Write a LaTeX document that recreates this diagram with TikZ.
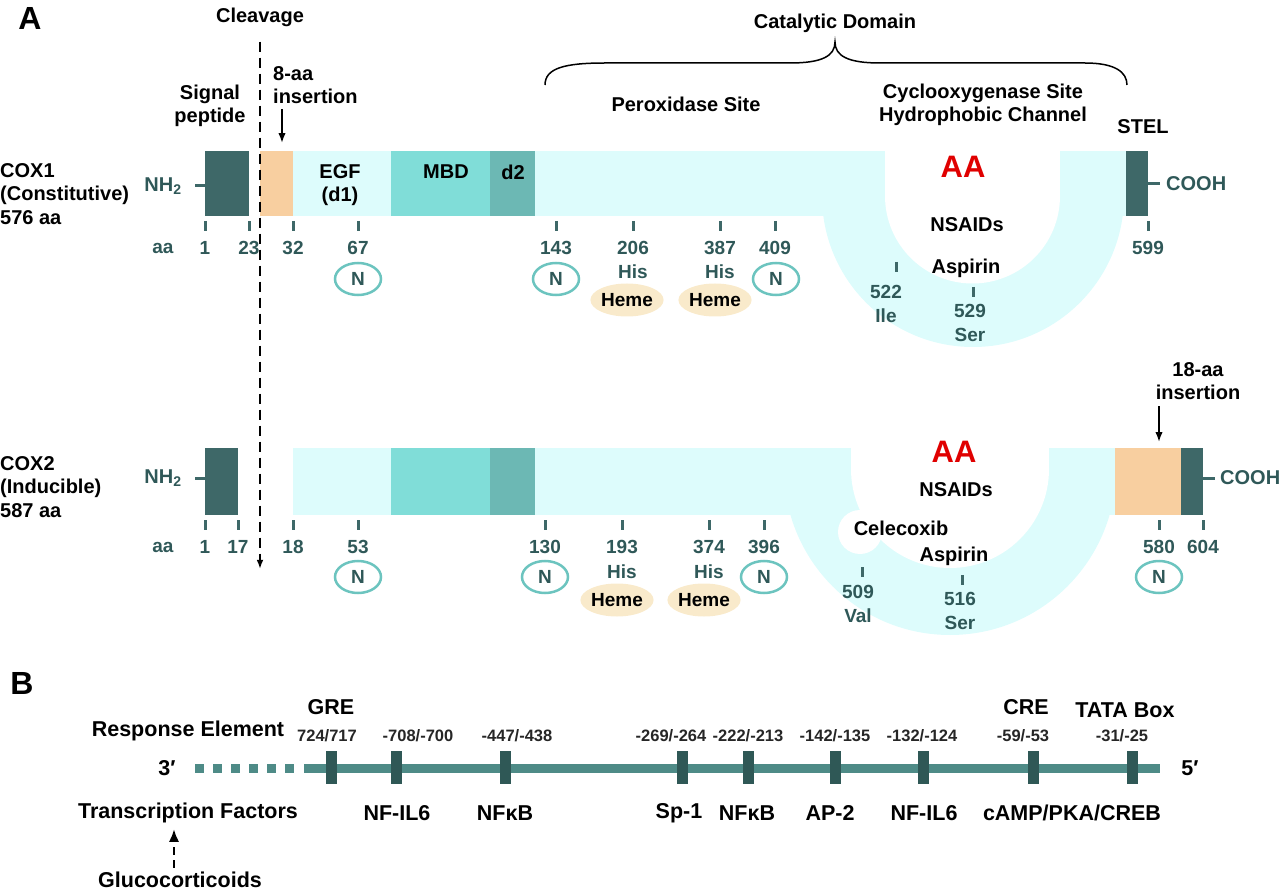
\documentclass[tikz,border=0pt]{standalone}
\usepackage{fontspec}
\setmainfont{Liberation Sans}
\usetikzlibrary{arrows.meta,positioning,shapes.geometric}
\definecolor{coxDark}{RGB}{62,104,104}
\definecolor{coxText}{RGB}{47,88,88}
\definecolor{coxLight}{RGB}{221,252,252}
\definecolor{coxMBD}{RGB}{128,221,216}
\definecolor{coxDtwo}{RGB}{108,184,180}
\definecolor{coxOrange}{RGB}{248,207,160}
\definecolor{coxHeme}{RGB}{249,234,203}
\definecolor{coxRing}{RGB}{108,196,191}
\definecolor{coxRed}{RGB}{224,0,0}
\definecolor{dnaLine}{RGB}{78,139,135}
\definecolor{dnaBox}{RGB}{47,88,86}

\begin{document}
\begin{tikzpicture}[x=1pt,y=-1pt,
  lbl/.style={font=\fontsize{20}{23.5}\selectfont\bfseries,align=center,inner sep=0pt},
  lbll/.style={lbl,align=left,anchor=west},
  lblb/.style={lbl,font=\fontsize{21.5}{24}\selectfont\bfseries},
  num/.style={lbl,font=\fontsize{19}{23.5}\selectfont\bfseries,text=coxText},
  term/.style={lbl,text=coxText},
  big/.style={font=\fontsize{32}{34}\selectfont\bfseries,inner sep=0pt},
  aa/.style={font=\fontsize{31}{33}\selectfont\bfseries,text=coxRed,inner sep=0pt},
  tick/.style={coxDark,line width=3pt},
  glyc/.style={ellipse,draw=coxRing,line width=2.5pt,minimum width=46pt,minimum height=32pt,inner sep=0pt,
    font=\fontsize{19}{20}\selectfont\bfseries,text=coxText},
  heme/.style={ellipse,fill=coxHeme,minimum width=56pt,minimum height=33pt,inner sep=0pt,
    font=\fontsize{19}{20}\selectfont\bfseries},
  renum/.style={font=\fontsize{16.5}{18}\selectfont\bfseries,text=black!85,inner sep=0pt},
  rebox/.style={fill=dnaBox,minimum width=11pt,minimum height=33pt,inner sep=0pt},
  arrow/.style={-{Latex[length=3.5mm,width=2.6mm]},line width=1.6pt},
  dasharrow/.style={-{Latex[length=3.2mm,width=2.4mm]},line width=2.4pt,dash pattern=on 10pt off 6pt}
]
  \useasboundingbox (0,0) rectangle (1280,893);

  % ---------- COX1 bar ----------
  \fill[coxLight] (535,151) rectangle (1127,216);
  \begin{scope}
    \clip (780,196) rectangle (1140,360);
    \fill[coxLight] (973,196) circle (151);
  \end{scope}
  \fill[white] (885,151) rectangle (1060,196);
  \fill[white] (972.5,196) circle (87.5);
  \fill[coxDark] (205,151) rectangle (249,216);
  \fill[coxOrange] (260,151) rectangle (293,216);
  \fill[coxLight] (293,151) rectangle (391,216);
  \fill[coxMBD] (391,151) rectangle (490,216);
  \fill[coxDtwo] (490,151) rectangle (535,216);
  \fill[coxDark] (1126,151) rectangle (1148,216);

  % ---------- COX2 bar ----------
  \fill[coxLight] (293,448) rectangle (1115,515);
  \begin{scope}
    \clip (770,469) rectangle (1120,650);
    \fill[coxLight] (950,469) circle (166);
  \end{scope}
  \fill[white] (851,448) rectangle (1049,469);
  \fill[white] (950,469) circle (99);
  \fill[white] (860,532) circle (22);
  \fill[coxDark] (205,448) rectangle (238,515);
  \fill[coxMBD] (391,448) rectangle (490,515);
  \fill[coxDtwo] (490,448) rectangle (535,515);
  \fill[coxOrange] (1115,448) rectangle (1181,515);
  \fill[coxDark] (1181,448) rectangle (1203,515);

  % ---------- A: COX1 labels ----------
  \node[big] (panelA) at (30,18) {A};
  \node[lbl] (cleave) at (260,17) {Cleavage};
  \node[lbl] (catal) at (835,23) {Catalytic Domain};
  \draw[line width=1.5pt] (545,85) .. controls (545,68) and (565,63) .. (605,63) -- (790,63)
    .. controls (822,63) and (835,56) .. (835,42) .. controls (835,56) and (848,63) .. (880,63)
    -- (1085,63) .. controls (1115,63) and (1127,72) .. (1127,85);
  \node[lbl] (signal) at (210,106) {Signal\\peptide};
  \node[lbll] (ins1) at (273,85) {8-aa\\insertion};
  \node[lbl] (perox) at (686,104) {Peroxidase Site};
  \node[lbl] (cyclo) at (983,105) {Cyclooxygenase Site\\Hydrophobic Channel};
  \node[lbl] (stel) at (1143,127) {STEL};
  \node[lbll] (cox1) at (0,194) {COX1\\(Constitutive)\\576 aa};

  \node[lbl] (egf) at (340,185) {EGF\\(d1)};
  \node[lbl] (mbd) at (446,172) {MBD};
  \node[lbl] (dtwo) at (513,172) {d2};
  \node[aa] (aa1) at (963,167) {AA};
  \node[lbl] (nsaid1) at (967,225) {NSAIDs};
  \node[lbl] (asp1) at (966,268) {Aspirin};
  \node[term] (nh1) at (163,186) {NH\textsubscript{2}};
  \node[term,anchor=west] (cooh1) at (1166,184) {COOH};
  \draw[tick] (195,186) -- (205,186);
  \draw[tick] (1148,184) -- (1160,184);
  \node[num] (aalbl1) at (163,248) {aa};

  \foreach \x/\t [count=\i] in {205/1,249/23,293/32,358/67,556/143,633/206,720/387,775/409,1148/599}{
    \draw[tick] (\x,221) -- (\x,231);
    \node[num] (onum\i) at (\x,248) {\t};
  }
  \draw[tick] (896,262) -- (896,272);
  \node[num] (ile) at (886,304) {522\\Ile};
  \draw[tick] (973,287) -- (973,297);
  \node[num] (ser1) at (970,323) {529\\Ser};
  \foreach \x [count=\i] in {358,556,776}
    \node[glyc] (oglyc\i) at (\x,279) {N};
  \node[num] (ohis1) at (633,272) {His};
  \node[num] (ohis2) at (720,272) {His};
  \node[heme] (oheme1) at (627,300) {Heme};
  \node[heme] (oheme2) at (715,300) {Heme};

  % ---------- A: COX2 labels ----------
  \node[lbll] (cox2) at (0,487) {COX2\\(Inducible)\\587 aa};
  \node[lbl] (ins2) at (1198,381) {18-aa\\insertion};
  \node[aa] (aa2) at (954,452) {AA};
  \node[lbl] (nsaid2) at (956,490) {NSAIDs};
  \node[lbl] (celec) at (901,528) {Celecoxib};
  \node[lbl] (asp2) at (954,556) {Aspirin};
  \node[term] (nh2) at (163,478) {NH\textsubscript{2}};
  \node[term,anchor=west] (cooh2) at (1220,478) {COOH};
  \draw[tick] (195,478) -- (205,478);
  \draw[tick] (1203,478) -- (1215,478);
  \node[num] (aalbl2) at (163,547) {aa};

  \foreach \x/\t [count=\i] in {205/1,238/17,293/18,358/53,545/130,622/193,709/374,764/396,1159/580,1203/604}{
    \draw[tick] (\x,520) -- (\x,530);
    \node[num] (tnum\i) at (\x,547) {\t};
  }
  \draw[tick] (862,567) -- (862,577);
  \node[num] (val) at (858,604) {509\\Val};
  \draw[tick] (962,575) -- (962,585);
  \node[num] (ser2) at (960,611) {516\\Ser};
  \foreach \x [count=\i] in {358,545,764,1159}
    \node[glyc] (tglyc\i) at (\x,577) {N};
  \node[num] (this1) at (622,572) {His};
  \node[num] (this2) at (709,572) {His};
  \node[heme] (theme1) at (617,600) {Heme};
  \node[heme] (theme2) at (704,600) {Heme};

  % arrows
  \coordinate (cleaveEnd) at (260,569);
  \coordinate (ins1tip) at (282,143);
  \coordinate (ins2tip) at (1159,442);
  \draw[dasharrow,shorten <=15pt] (cleave) -- (cleaveEnd);
  \draw[arrow] ([yshift=-5pt]ins1tip |- ins1.south) -- (ins1tip);
  \draw[arrow] ([yshift=-6pt]ins2tip |- ins2.south) -- (ins2tip);

  % ---------- B: promoter ----------
  \node[big] (panelB) at (22,683) {B};
  \draw[dnaLine,line width=9pt,dash pattern=on 9pt off 9pt] (195,768) -- (295,768);
  \draw[dnaLine,line width=9pt] (304,768) -- (1160,768);
  \node[lblb] (three) at (167,768) {3′};
  \node[lblb] (five) at (1190,768) {5′};
  \node[lblb] (resp) at (188,731) {Response Element};
  \node[lblb] (tf) at (188,813) {Transcription Factors};
  \node[lblb] (gluco) at (180,880) {Glucocorticoids};
  \coordinate (tfpoint) at (174,829);
  \draw[-{Latex[length=4.5mm,width=3.6mm]},line width=2.5pt,dash pattern=on 8pt off 5pt]
    (tfpoint |- gluco.north) ++(0,-4) -- (tfpoint);

  \foreach \x/\nx/\r/\fx/\f [count=\i] in {331/327/724\slash 717/0/,396/418/-708\slash -700/397/NF-IL6,
      505/517/-447\slash -438/505/NFκB,682/671/-269\slash -264/679/Sp-1,748/748/-222\slash -213/747/NFκB,
      835/835/-142\slash -135/830/AP-2,923/922/-132\slash -124/924/NF-IL6,
      1033/1023/-59\slash -53/0/,1132/1122/-31\slash -25/0/}{
    \node[rebox] (re\i) at (\x,767) {};
    \node[renum] (rn\i) at (\nx,736) {\r};
    \node[lblb] (rf\i) at (\fx,813) {\f};
  }
  \node[lblb] (gre) at (331,707) {GRE};
  \node[lblb] (cre) at (1026,707) {CRE};
  \node[lblb] (tata) at (1125,710) {TATA Box};
  \node[lblb] (camp) at (1072,813) {cAMP/PKA/CREB};
\end{tikzpicture}
\end{document}
